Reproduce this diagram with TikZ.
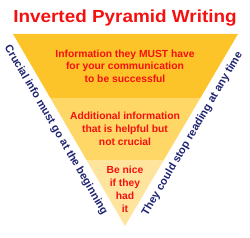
\documentclass[tikz,border=0pt]{standalone}
\usepackage{fontspec}
\setmainfont{Liberation Sans}
\usetikzlibrary{calc}
\definecolor{bandA}{HTML}{FDC42A}
\definecolor{bandB}{HTML}{FED766}
\definecolor{bandC}{HTML}{FFE49E}
\definecolor{titlered}{HTML}{F51010}
\definecolor{navy}{HTML}{1E2370}
\tikzstyle{headline} = [font=\fontsize{17.5}{20}\selectfont\bfseries, text=titlered, inner sep=0pt]
\tikzstyle{bandtext} = [font=\fontsize{10.3}{12.8}\selectfont\bfseries, text=titlered, align=center, inner sep=0pt]
\tikzstyle{sidetext} = [font=\fontsize{11}{13}\selectfont\bfseries, text=navy, inner sep=0pt]

\begin{document}
\begin{tikzpicture}[x=1pt, y=1pt]
    \useasboundingbox (0,0) rectangle (250,238);
    \coordinate (tl) at (13,204);
    \coordinate (tr) at (238,204);
    \coordinate (apex) at (125,12);
    \coordinate (l1) at ($(tl)!0.333!(apex)$);
    \coordinate (r1) at ($(tr)!0.333!(apex)$);
    \coordinate (l2) at ($(tl)!0.66!(apex)$);
    \coordinate (r2) at ($(tr)!0.66!(apex)$);
    \fill[bandA] (tl) -- (tr) -- (r1) -- (l1) -- cycle;
    \fill[bandB] (l1) -- (r1) -- (r2) -- (l2) -- cycle;
    \fill[bandC] (l2) -- (r2) -- (apex) -- cycle;

    \node (heading) [headline, anchor=base] at (125,215) {\scalebox{1.08}[1]{Inverted Pyramid Writing}};
    \node (must) [bandtext] at (125,171.8) {Information they MUST have\\for your communication\\to be successful};
    \node (extra) [bandtext] at (125,109) {Additional information\\that is helpful but\\not crucial};
    \node (nice) [bandtext] at (125,48.5) {Be nice\\if they\\had\\it};

    \path (tl) -- (apex) node (crucial) [sidetext, pos=0.47, sloped, below=6pt] {Crucial info must go at the beginning};
    \path (apex) -- (tr) node (anytime) [sidetext, pos=0.51, sloped, below=6pt] {They could stop reading at any time};
\end{tikzpicture}
\end{document}
